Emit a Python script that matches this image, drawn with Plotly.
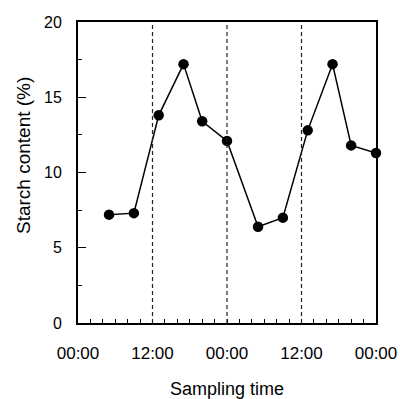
import plotly.graph_objects as go

# Data (hours from first 00:00)
hours = [5, 9, 13, 17, 20, 24, 29, 33, 37, 41, 44, 48]
starch = [7.2, 7.3, 13.8, 17.2, 13.4, 12.1, 6.4, 7.0, 12.8, 17.2, 11.8, 11.3]
x_tickvals = [0, 12, 24, 36, 48]
x_ticktext = ["00:00", "12:00", "00:00", "12:00", "00:00"]
dash_hours = [12, 24, 36]
y_tickvals = [0, 5, 10, 15, 20]

font = "Liberation Sans, Arial, sans-serif"

fig = go.Figure()
fig.add_trace(go.Scatter(
    x=hours, y=starch, mode="lines+markers",
    line=dict(color="black", width=1.5),
    marker=dict(color="black", size=10.5),
    cliponaxis=False, showlegend=False,
))
for h in dash_hours:
    fig.add_shape(type="line", xref="x", yref="paper", x0=h, x1=h, y0=0, y1=1,
                  line=dict(color="#222222", width=1.2, dash="4px,3px"))

fig.update_layout(
    width=400, height=399,
    margin=dict(l=78, r=24, t=22, b=76),
    plot_bgcolor="white", paper_bgcolor="white",
    font=dict(family=font, size=16, color="black"),
)
fig.update_xaxes(
    range=[0, 48], tickvals=x_tickvals, ticktext=x_ticktext,
    tickfont=dict(size=17),
    ticks="inside", ticklen=4, tickcolor="black", tickwidth=1,
    minor=dict(dtick=2, tick0=0, ticks="inside", ticklen=4, tickcolor="black", tickwidth=1),
    showline=True, linecolor="black", linewidth=2, mirror=True,
    showgrid=False, zeroline=False, automargin=False,
    ticklabelstandoff=14,
    title=dict(text="Sampling time", font=dict(size=18), standoff=21),
)
fig.update_yaxes(
    range=[0, 20], tickvals=y_tickvals,
    tickfont=dict(size=16),
    ticks="inside", ticklen=8, tickcolor="black", tickwidth=1,
    minor=dict(dtick=2.5, tick0=0, ticks="inside", ticklen=4, tickcolor="black", tickwidth=1),
    showline=True, linecolor="black", linewidth=2, mirror=True,
    showgrid=False, zeroline=False, automargin=False,
    ticklabelstandoff=11,
)
# y-axis title sits a little above the plot's middle in the reference
fig.add_annotation(
    text="Starch content (%)", textangle=-90, showarrow=False,
    xref="paper", yref="paper", x=-0.181, y=0.555,
    xanchor="center", yanchor="middle", font=dict(size=19),
)

# remove the browser's default 8px body margin so the 400x399 figure fills the window
fig.write_html("out.html", config={"displayModeBar": False},
               post_script="document.body.style.margin='0';")
